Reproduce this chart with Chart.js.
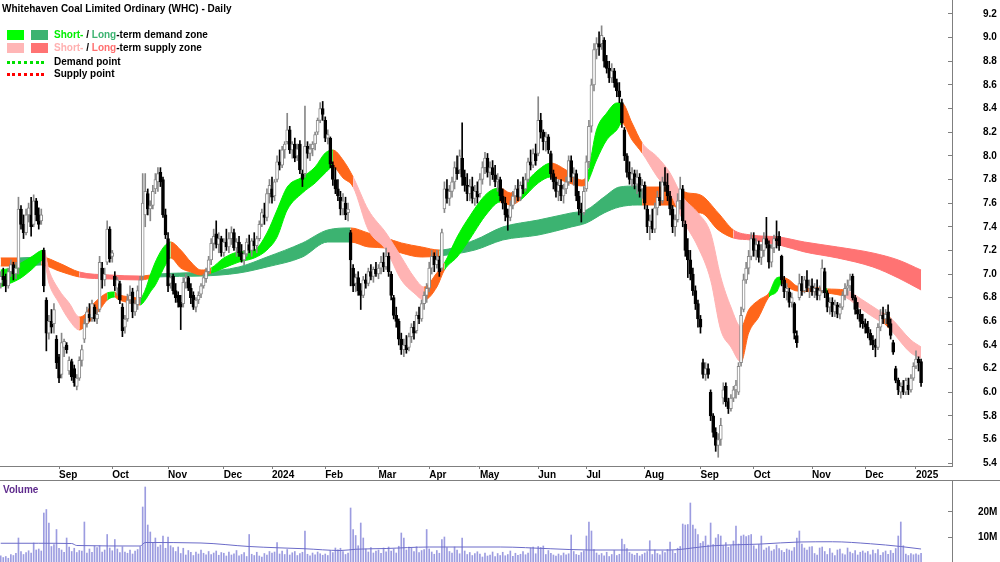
<!DOCTYPE html>
<html>
<head>
<meta charset="utf-8">
<script src="https://cdn.jsdelivr.net/npm/chart.js@4.4.1/dist/chart.umd.min.js"></script>
<style>
  html, body { margin: 0; padding: 0; background: #fff; }
  #wrap { position: relative; width: 1000px; height: 562px; overflow: hidden; font: bold 10px "Liberation Sans", Arial, sans-serif; color: #000; }
  canvas { position: absolute; left: 0; }
  #priceCanvas { top: 0; }
  #volCanvas { top: 481px; }
  #sep { position: absolute; left: 0; top: 480px; width: 1000px; height: 1px; background: #7f7f7f; }
  .txt { position: absolute; line-height: 12px; white-space: nowrap; }
  .sw { position: absolute; width: 17px; height: 10px; }
  .dots { position: absolute; width: 37px; height: 0; }
</style>
</head>
<body>
<div id="wrap">
  <canvas id="priceCanvas" width="1000" height="480"></canvas>
  <div id="sep"></div>
  <canvas id="volCanvas" width="1000" height="81"></canvas>

  <div class="txt" style="left:2px;top:3px">Whitehaven Coal Limited Ordinary (WHC) - Daily</div>
  <div class="sw" style="left:7px;top:30px;background:#00ff00"></div>
  <div class="sw" style="left:31px;top:30px;background:#3cb371"></div>
  <div class="txt" style="left:54px;top:29px"><span style="color:#00ee00">Short-</span> / <span style="color:#3cb371">Long</span>-term demand zone</div>
  <div class="sw" style="left:7px;top:43px;background:#ffb6b6"></div>
  <div class="sw" style="left:31px;top:43px;background:#ff7373"></div>
  <div class="txt" style="left:54px;top:42px"><span style="color:#ffb0b0">Short-</span> / <span style="color:#ff6f6f">Long</span>-term supply zone</div>
  <div class="dots" style="left:7px;top:61px;border-top:3px dotted #00e000"></div>
  <div class="txt" style="left:54px;top:56px">Demand point</div>
  <div class="dots" style="left:7px;top:73px;border-top:3px dotted #ff0000"></div>
  <div class="txt" style="left:54px;top:68px">Supply point</div>
  <div class="txt" style="left:3px;top:484px;color:#5e2a8c">Volume</div>
</div>
<script>
// month ticks (trading-day index of first session of each month)
const monthStart = [23, 44, 66, 88, 107, 128, 149, 169, 189, 212, 231, 254, 276, 297, 320, 341, 361];
const monthLabels = ['Sep', 'Oct', 'Nov', 'Dec', '2024', 'Feb', 'Mar', 'Apr', 'May', 'Jun', 'Jul', 'Aug', 'Sep', 'Oct', 'Nov', 'Dec', '2025'];

// daily prices, Aug 2023 .. Jan 2025
const openP = [
  6.92,6.98,6.95,6.9,7.02,7.08,7.0,7.05,7.55,7.42,7.35,7.5,7.5,7.42,7.62,7.5,7.45,7.2,6.78,6.5,6.6,6.58,6.45,
  6.3,6.15,6.38,6.4,6.18,6.26,6.2,6.05,6.12,6.27,6.45,6.58,6.66,6.63,6.72,6.62,6.7,7.05,6.95,7.1,7.38,
  7.15,6.98,6.88,6.92,6.72,6.55,6.62,6.78,6.85,6.68,6.74,6.8,6.98,7.5,7.68,7.55,7.58,7.72,7.78,7.86,7.8,7.5,
  7.3,6.92,6.98,6.86,6.82,6.76,6.75,6.93,6.97,6.88,6.82,6.72,6.78,6.83,6.9,6.96,7.02,7.12,7.26,7.34,7.25,7.3,
  7.18,7.27,7.23,7.3,7.35,7.22,7.27,7.18,7.12,7.17,7.25,7.2,7.28,7.24,7.3,7.42,7.5,7.48,7.68,
  7.72,7.66,7.8,7.95,7.92,8.05,8.12,8.22,8.05,8.1,8.0,8.1,7.85,7.85,8.08,8.02,8.06,8.1,8.2,8.3,8.4,
  8.3,8.15,8.15,7.92,7.8,7.72,7.65,7.55,7.6,7.52,7.35,7.05,6.92,6.97,6.86,6.82,6.95,6.92,7.02,6.98,7.04,
  7.0,7.05,7.1,7.06,7.15,7.0,6.8,6.65,6.6,6.45,6.36,6.4,6.38,6.47,6.55,6.52,6.65,6.62,6.75,6.82,
  6.88,7.05,7.15,7.08,7.12,7.05,7.55,7.72,7.64,7.7,7.78,7.9,7.88,7.98,7.82,7.75,7.68,7.74,7.64,7.7,
  7.68,7.8,7.9,7.98,7.86,7.9,7.84,7.78,7.8,7.66,7.6,7.5,7.48,7.58,7.66,7.72,7.65,7.75,7.72,7.8,7.95,7.92,8.02,
  8.02,8.3,8.2,8.12,8.16,8.02,7.85,7.78,7.7,7.75,7.66,7.72,7.78,7.96,7.82,7.85,7.66,7.55,7.52,
  7.72,7.95,8.25,8.6,8.9,8.95,8.95,8.98,8.8,8.74,8.66,8.72,8.62,8.55,8.45,8.22,8.0,7.86,7.8,7.85,7.76,7.82,7.72,
  7.75,7.55,7.4,7.45,7.38,7.56,7.65,7.62,7.78,7.75,7.66,7.55,7.4,7.46,7.62,7.72,7.42,7.2,7.12,7.0,6.86,6.75,
  6.62,6.25,6.15,6.2,6.0,5.8,5.66,5.55,5.6,5.95,6.05,5.92,5.86,5.95,6.02,6.0,6.25,6.7,6.95,7.05,7.15,
  7.3,7.2,7.25,7.14,7.2,7.3,7.25,7.1,7.22,7.3,7.32,7.15,6.95,6.85,6.85,6.76,6.75,6.48,6.8,6.92,6.86,6.95,6.88,
  6.9,6.85,6.88,6.82,6.86,7.02,6.84,6.72,6.76,6.68,6.74,6.66,6.72,6.82,6.88,6.9,6.98,6.8,6.7,6.66,6.6,
  6.58,6.55,6.5,6.44,6.4,6.38,6.55,6.65,6.62,6.68,6.58,6.42,6.2,6.1,6.0,6.05,6.0,6.06,6.02,6.12,
  6.22,6.28,6.26
];
const highP = [
  7.02,7.05,7.0,7.05,7.12,7.1,7.1,7.65,7.58,7.5,7.55,7.6,7.65,7.67,7.64,7.56,7.55,7.22,6.8,6.65,6.7,6.75,6.48,
  6.32,6.5,6.45,6.42,6.3,6.28,6.23,6.15,6.3,6.4,6.62,6.72,6.75,6.78,6.74,6.7,7.15,7.1,7.05,7.45,7.4,
  7.2,7.02,6.97,6.94,6.75,6.65,6.83,6.9,6.88,6.78,6.9,6.98,7.85,7.85,7.72,7.62,7.75,7.85,7.9,7.9,7.82,7.55,
  7.35,7.0,7.0,6.92,6.85,6.82,6.97,7.0,6.98,6.92,6.85,6.8,6.85,6.92,7.0,7.05,7.15,7.3,7.38,7.45,7.35,7.32,
  7.3,7.38,7.35,7.4,7.38,7.3,7.32,7.25,7.2,7.3,7.33,7.3,7.35,7.32,7.45,7.55,7.6,7.72,7.8,
  7.82,7.8,8.0,8.05,8.08,8.12,8.36,8.25,8.12,8.15,8.1,8.13,7.88,8.42,8.12,8.1,8.12,8.2,8.32,8.45,8.46,
  8.33,8.22,8.16,7.95,7.9,7.8,7.7,7.68,7.65,7.6,7.37,7.08,7.0,7.02,6.92,6.98,7.0,7.05,7.08,7.06,7.1,
  7.08,7.15,7.18,7.22,7.18,7.02,6.82,6.72,6.62,6.5,6.45,6.48,6.5,6.58,6.6,6.68,6.72,6.78,6.85,6.92,
  7.1,7.2,7.18,7.2,7.15,7.38,7.78,7.8,7.75,7.82,7.95,8.0,8.05,8.28,7.88,7.85,7.8,7.82,7.75,7.78,
  7.85,7.95,8.03,8.02,7.95,7.96,7.92,7.85,7.82,7.72,7.65,7.55,7.62,7.7,7.75,7.8,7.78,7.82,7.85,7.98,8.05,8.06,8.1,
  8.5,8.36,8.22,8.2,8.18,8.04,7.88,7.82,7.8,7.8,7.76,7.82,8.0,8.0,7.9,7.88,7.7,7.6,7.74,
  8.0,8.3,8.65,8.95,9.0,9.05,9.1,9.0,8.85,8.8,8.78,8.74,8.65,8.62,8.48,8.24,8.02,7.95,7.9,7.88,7.88,7.85,7.8,
  7.78,7.58,7.5,7.55,7.6,7.7,7.78,7.82,7.9,7.85,7.7,7.58,7.5,7.68,7.82,7.75,7.45,7.3,7.2,7.05,6.9,6.78,
  6.65,6.28,6.25,6.24,6.02,5.82,5.7,5.65,5.78,6.08,6.08,5.95,5.98,6.05,6.1,6.25,6.72,7.0,7.1,7.2,7.35,
  7.35,7.3,7.28,7.25,7.35,7.48,7.28,7.25,7.33,7.45,7.36,7.16,6.98,6.92,6.88,6.84,6.76,6.52,7.0,6.98,6.98,7.03,6.95,
  6.96,6.92,6.95,6.9,7.12,7.05,6.86,6.8,6.8,6.78,6.76,6.75,6.85,6.92,6.95,7.0,7.0,6.82,6.76,6.7,6.66,
  6.62,6.6,6.53,6.48,6.45,6.58,6.7,6.72,6.7,6.74,6.62,6.44,6.22,6.12,6.08,6.1,6.12,6.12,6.15,6.25,
  6.35,6.3,6.28
];
const lowP = [
  6.88,6.9,6.85,6.88,6.98,6.95,6.96,7.0,7.38,7.3,7.33,7.44,7.32,7.4,7.45,7.38,7.42,6.85,6.35,6.45,6.5,6.5,6.2,
  6.08,6.12,6.3,6.33,6.15,6.1,6.05,6.02,6.1,6.22,6.42,6.55,6.6,6.6,6.6,6.58,6.68,6.88,6.9,7.08,7.1,
  7.1,6.86,6.82,6.75,6.47,6.5,6.6,6.75,6.63,6.65,6.7,6.75,6.95,7.4,7.5,7.45,7.55,7.68,7.7,7.74,7.48,7.3,
  6.85,6.88,6.83,6.76,6.72,6.53,6.72,6.88,6.86,6.75,6.7,6.68,6.75,6.8,6.88,6.93,7.0,7.08,7.2,7.22,7.18,7.15,
  7.15,7.2,7.18,7.25,7.2,7.15,7.15,7.1,7.08,7.15,7.18,7.15,7.2,7.18,7.28,7.4,7.42,7.45,7.6,
  7.6,7.62,7.78,7.88,7.9,7.98,8.1,8.02,7.98,7.95,7.96,7.85,7.74,7.82,7.98,7.96,8.0,8.05,8.18,8.28,8.3,
  8.12,8.1,7.9,7.75,7.68,7.62,7.5,7.5,7.46,7.45,6.9,6.85,6.85,6.82,6.7,6.8,6.88,6.9,6.95,6.93,6.98,
  6.96,7.0,7.02,7.04,6.98,6.78,6.62,6.55,6.4,6.32,6.3,6.33,6.35,6.42,6.45,6.5,6.58,6.6,6.7,6.76,
  6.85,7.0,7.02,7.05,6.98,7.03,7.52,7.6,7.58,7.65,7.72,7.8,7.85,7.75,7.7,7.62,7.62,7.6,7.58,7.6,
  7.65,7.76,7.85,7.82,7.75,7.8,7.74,7.7,7.62,7.55,7.45,7.37,7.45,7.55,7.6,7.62,7.62,7.68,7.7,7.78,7.88,7.9,7.92,
  8.0,8.15,8.05,8.04,8.02,7.8,7.72,7.65,7.62,7.62,7.6,7.68,7.75,7.78,7.75,7.62,7.5,7.44,7.5,
  7.7,7.9,8.2,8.55,8.82,8.85,8.9,8.75,8.7,8.62,8.62,8.58,8.5,8.45,8.24,7.96,7.82,7.76,7.74,7.72,7.68,7.65,7.64,
  7.55,7.35,7.29,7.35,7.35,7.5,7.58,7.6,7.7,7.62,7.5,7.35,7.32,7.44,7.55,7.4,7.15,6.97,6.95,6.82,6.7,6.55,
  6.5,6.12,6.1,6.12,5.76,5.62,5.5,5.45,5.55,5.9,5.88,5.82,5.84,5.92,5.95,5.98,6.22,6.68,6.92,7.0,7.12,
  7.15,7.12,7.1,7.08,7.15,7.22,7.05,7.06,7.18,7.22,7.2,6.9,6.8,6.78,6.72,6.72,6.45,6.38,6.78,6.82,6.84,6.85,6.8,
  6.82,6.8,6.78,6.78,6.84,6.8,6.68,6.66,6.64,6.64,6.63,6.62,6.7,6.78,6.82,6.86,6.78,6.66,6.62,6.55,6.54,
  6.5,6.46,6.4,6.36,6.3,6.36,6.52,6.58,6.58,6.55,6.45,6.32,6.08,5.98,5.95,5.98,5.98,5.98,6.0,6.1,
  6.2,6.18,6.05
];
const closeP = [
  6.98,6.95,6.9,7.02,7.08,7.0,7.05,7.55,7.42,7.35,7.5,7.56,7.4,7.62,7.5,7.42,7.5,6.9,6.5,6.6,6.55,6.7,6.25,
  6.12,6.42,6.43,6.36,6.27,6.13,6.08,6.12,6.27,6.36,6.58,6.68,6.63,6.75,6.62,6.66,7.1,6.95,7.0,7.38,7.13,
  7.18,6.9,6.95,6.78,6.52,6.62,6.78,6.82,6.68,6.75,6.86,6.95,7.6,7.7,7.55,7.58,7.7,7.8,7.85,7.78,7.5,7.33,
  6.9,6.97,6.86,6.8,6.76,6.72,6.93,6.97,6.88,6.8,6.72,6.78,6.82,6.9,6.97,7.02,7.12,7.26,7.32,7.25,7.3,7.18,
  7.27,7.23,7.3,7.35,7.22,7.27,7.18,7.12,7.17,7.27,7.2,7.28,7.24,7.3,7.42,7.52,7.48,7.68,7.75,
  7.65,7.78,7.95,7.92,8.05,8.1,8.22,8.05,8.1,7.98,8.06,7.88,7.8,8.08,8.02,8.06,8.1,8.18,8.3,8.4,8.35,
  8.15,8.18,7.93,7.8,7.72,7.66,7.55,7.62,7.5,7.55,7.12,6.9,6.97,6.86,6.82,6.95,6.92,7.02,6.98,7.04,7.0,
  7.05,7.1,7.06,7.15,7.02,6.82,6.65,6.6,6.45,6.36,6.4,6.36,6.47,6.55,6.5,6.65,6.62,6.75,6.82,6.88,
  7.05,7.15,7.08,7.12,7.02,7.35,7.72,7.64,7.7,7.78,7.9,7.85,8.0,7.82,7.75,7.68,7.74,7.64,7.7,7.65,
  7.8,7.9,7.98,7.86,7.9,7.84,7.78,7.8,7.66,7.6,7.5,7.48,7.58,7.66,7.72,7.65,7.75,7.72,7.8,7.95,7.92,8.02,7.96,
  8.3,8.2,8.12,8.16,8.05,7.85,7.78,7.7,7.75,7.66,7.72,7.78,7.96,7.82,7.85,7.66,7.55,7.52,7.7,
  7.95,8.25,8.6,8.9,8.95,8.92,9.02,8.8,8.74,8.66,8.72,8.62,8.55,8.5,8.28,8.0,7.86,7.8,7.85,7.76,7.82,7.7,7.75,
  7.6,7.4,7.45,7.38,7.56,7.65,7.62,7.78,7.75,7.66,7.55,7.4,7.46,7.62,7.72,7.45,7.2,7.12,7.0,6.86,6.75,6.62,
  6.55,6.15,6.2,6.15,5.8,5.66,5.55,5.6,5.72,6.02,5.92,5.86,5.95,6.02,6.06,6.22,6.65,6.95,7.05,7.15,7.3,
  7.2,7.25,7.14,7.2,7.3,7.25,7.1,7.22,7.3,7.28,7.24,6.95,6.85,6.88,6.76,6.8,6.5,6.42,6.92,6.86,6.95,6.88,6.9,
  6.85,6.88,6.82,6.86,7.05,6.84,6.72,6.76,6.68,6.74,6.66,6.72,6.82,6.88,6.9,6.95,6.8,6.7,6.66,6.6,6.58,
  6.55,6.5,6.44,6.4,6.38,6.55,6.65,6.62,6.66,6.58,6.48,6.34,6.1,6.02,6.05,6.0,6.1,6.02,6.12,6.22,
  6.28,6.25,6.08
];

// daily volume, millions of shares
const volume = [
  2.5,1.8,2.2,1.5,3.0,2.6,3.5,9.6,4.2,3.0,3.8,4.5,3.6,7.6,4.8,5.2,4.4,19.6,21.0,15.6,6.2,7.0,13.0,
  5.5,4.8,3.9,9.6,6.0,4.2,5.5,3.8,4.6,4.4,16.0,3.6,5.2,3.9,6.4,5.8,6.5,4.0,4.8,11.0,5.6,
  4.5,9.0,5.2,3.8,6.1,4.0,3.5,4.8,3.2,4.4,5.0,6.2,22.0,30.0,14.8,12.0,7.5,9.6,6.0,6.8,10.4,5.5,
  10.0,6.5,5.8,4.2,6.0,3.4,5.5,2.8,4.6,3.9,2.6,4.0,3.2,4.8,3.5,2.9,4.2,3.0,3.6,4.4,2.7,3.8,
  3.5,2.4,4.0,2.8,3.3,4.6,2.5,3.0,3.8,2.2,11.0,3.1,2.6,3.9,2.4,2.0,3.4,2.8,4.2,
  3.6,4.0,7.8,3.2,4.4,3.0,5.0,2.8,3.7,4.2,2.6,3.4,3.9,12.4,3.1,2.5,3.6,2.9,4.0,3.3,2.7,
  3.2,2.6,4.5,3.8,5.6,4.9,5.5,4.2,3.0,3.6,21.6,13.0,10.6,6.5,15.6,9.6,5.2,4.0,5.8,3.6,4.4,
  4.8,3.5,5.6,4.1,6.0,4.4,5.2,3.6,6.3,11.6,9.6,4.8,6.0,5.5,4.2,6.1,3.8,4.6,5.0,13.0,
  5.2,4.0,3.1,4.6,3.5,9.0,10.0,5.8,4.2,3.6,6.0,4.8,3.3,9.6,4.4,3.0,3.8,2.6,3.4,4.1,
  3.2,2.0,3.6,2.4,2.8,4.0,2.2,3.4,2.6,3.9,2.5,3.0,4.4,2.3,3.5,2.7,3.1,4.2,2.9,3.6,5.6,6.0,3.3,
  6.2,5.8,6.4,3.0,4.6,3.5,2.8,2.4,3.2,2.6,3.6,2.9,3.3,10.8,4.2,3.0,2.7,3.8,4.5,
  10.4,16.0,12.4,5.0,3.6,2.8,3.4,2.5,3.9,2.2,3.0,4.6,2.6,3.1,9.2,7.0,5.4,3.8,3.2,2.7,3.5,2.4,3.0,
  3.6,4.2,8.5,3.0,4.8,3.4,2.9,4.4,3.8,5.0,8.0,4.6,3.5,5.5,6.2,15.2,14.8,15.0,23.6,14.8,13.2,11.0,
  7.5,8.2,10.4,6.8,15.6,7.0,9.6,11.0,10.4,6.5,7.8,5.9,6.6,8.4,14.4,7.2,10.4,10.8,10.2,10.6,11.0,
  6.5,5.2,7.0,10.4,4.8,5.6,6.2,4.4,5.0,6.8,5.4,4.6,3.9,5.2,4.8,4.4,5.8,9.6,12.4,7.2,5.6,4.8,6.0,
  6.2,3.4,2.8,5.6,6.0,4.2,3.0,5.4,3.6,2.6,4.8,5.2,3.3,2.9,5.6,4.0,3.4,4.6,2.8,3.9,4.4,
  3.6,4.2,2.9,4.8,3.4,5.0,2.7,3.8,4.4,3.1,4.6,3.5,5.4,10.4,16.0,6.5,3.2,2.6,3.4,2.9,
  3.3,2.8,3.5
];

// volume moving average (read at a few sessions)
const volMaIdx = [0, 15, 28, 30, 55, 57, 79, 98, 109, 120, 134, 140, 152, 169, 197, 217, 232, 264, 276, 281, 300, 315, 328, 343, 355, 363];
const volMaVal = [7.5, 7.5, 7.4, 6.6, 6.4, 7.8, 7.6, 6.2, 5.7, 5.3, 4.6, 5.1, 5.4, 6.0, 6.0, 5.3, 4.8, 4.8, 6.0, 6.5, 7.2, 8.0, 8.1, 7.3, 6.2, 5.2];

// short-term zone: upper / lower edge and zone type for the following stretch
const stIdx = [0,4,8,12,17,19,23,27,31,33,35,39,42,45,46,51,55,57,59,61,63,65,67,71,75,79,83,88,94,100,105,109,113,119,124,128,131,135,139,145,152,158,163,167,172,175,180,184,192,197,201,205,212,217,223,229,231,235,239,243,245,249,253,259,264,269,275,280,284,288,292,295,299,303,306,308,311,314,324,326,333,340,346,348,351,359,363];
const stHi = [7.034,7.051,7.093,7.144,7.203,7.034,6.865,6.755,6.637,6.654,6.713,6.797,6.840,6.848,6.831,6.806,6.797,6.865,6.992,7.102,7.187,7.246,7.271,7.203,7.102,7.034,7.051,7.136,7.187,7.203,7.347,7.542,7.736,7.821,7.906,8.024,8.049,7.965,7.821,7.542,7.347,7.144,6.975,6.890,7.009,7.093,7.313,7.457,7.686,7.728,7.686,7.736,7.880,7.939,7.880,7.796,7.821,8.219,8.362,8.447,8.447,8.278,8.109,7.990,7.855,7.652,7.517,7.347,6.975,6.721,6.552,6.696,6.780,6.840,6.967,6.975,6.950,6.899,6.882,6.874,6.865,6.780,6.696,6.670,6.628,6.442,6.383];
const stLo = [6.890,6.924,6.967,7.034,7.119,6.924,6.755,6.611,6.527,6.552,6.594,6.696,6.780,6.806,6.789,6.755,6.738,6.780,6.848,6.907,6.992,7.077,7.136,7.051,7.017,6.992,7.009,7.051,7.102,7.136,7.203,7.313,7.542,7.686,7.770,7.855,7.906,7.813,7.736,7.373,7.203,6.950,6.840,6.780,6.890,7.034,7.144,7.263,7.517,7.610,7.584,7.626,7.770,7.821,7.779,7.745,7.762,7.965,8.134,8.219,8.278,8.134,8.024,7.821,7.686,7.457,7.229,6.950,6.527,6.383,6.256,6.501,6.637,6.806,6.848,6.924,6.882,6.857,6.848,6.840,6.806,6.696,6.611,6.590,6.527,6.332,6.290];
const stZone = ['G','G','G','G','P','P','P','P','O','O','O','O','G','O','O','O','G','G','G','G','G','G','O','O','O','O','G','G','G','G','G','G','G','G','G','G','O','O','P','P','P','P','P','O','O','G','G','G','G','O','O','G','G','O','O','O','G','G','G','G','O','O','P','P','P','P','P','P','P','P','O','O','O','G','G','O','O','O','G','O','P','P','P','O','P','P','P'];

// long-term zone
const ltIdx = [0,7,16,23,31,43,55,62,79,94,105,119,129,138,145,152,158,166,173,187,198,212,225,231,238,244,251,253,264,271,276,283,289,296,307,317,330,344,354,363];
const ltHi = [7.136,7.136,7.144,7.093,7.017,6.992,6.983,7.000,7.017,7.060,7.144,7.263,7.373,7.390,7.347,7.305,7.263,7.229,7.203,7.288,7.398,7.457,7.517,7.542,7.652,7.736,7.745,7.736,7.736,7.686,7.669,7.517,7.373,7.330,7.313,7.271,7.229,7.178,7.119,7.034];
const ltLo = [7.068,7.068,7.077,7.026,6.975,6.958,6.950,6.975,6.983,7.009,7.060,7.144,7.271,7.271,7.229,7.220,7.178,7.144,7.153,7.203,7.288,7.330,7.398,7.432,7.517,7.567,7.584,7.584,7.584,7.517,7.517,7.373,7.305,7.288,7.246,7.187,7.136,7.060,6.967,6.865];
const ltZone = ['O','D','O','O','S','S','O','D','D','D','D','D','D','O','O','O','O','O','D','D','D','D','D','D','D','D','D','O','O','O','O','O','S','S','S','S','S','S','S','S'];

const zoneColor = { G: '#00f000', D: '#3cb371', P: '#ffb3b3', S: '#ff7373', O: '#ff661a' };
const FONT = { family: '"Liberation Sans", Arial, sans-serif', size: 10, weight: 'bold' };
const X_MIN = -0.28, X_MAX = 375.2;

function zoneDatasets(idx, hi, lo, zone, order) {
    const col = ctx => zoneColor[zone[ctx.p0DataIndex]];
    const base = {
        type: 'line',
        pointRadius: 0,
        borderWidth: 1,
        cubicInterpolationMode: 'monotone',
        backgroundColor: zoneColor[zone[0]],
        borderColor: zoneColor[zone[0]],
        segment: { backgroundColor: col, borderColor: col },
        order: order
    };
    return [
        Object.assign({}, base, { data: idx.map((v, k) => ({ x: v, y: hi[k] })), fill: '+1' }),
        Object.assign({}, base, { data: idx.map((v, k) => ({ x: v, y: lo[k] })), fill: false })
    ];
}

const isUp = i => closeP[i] >= openP[i];

function createPriceChart() {
    const wicks = closeP.map((c, i) => ({ x: i, y: [lowP[i], highP[i]] }));
    const bodies = closeP.map((c, i) => ({ x: i, y: [openP[i], c] }));

    new Chart(document.getElementById('priceCanvas'), {
        type: 'bar',
        data: {
            datasets: [
                ...zoneDatasets(ltIdx, ltHi, ltLo, ltZone, 4),
                ...zoneDatasets(stIdx, stHi, stLo, stZone, 3),
                {
                    type: 'bar', data: wicks, grouped: false, barThickness: 1, order: 2,
                    backgroundColor: ctx => isUp(ctx.dataIndex) ? '#888888' : '#000000'
                },
                {
                    type: 'bar', data: bodies, grouped: false, barThickness: 3, order: 1,
                    borderWidth: 1, borderSkipped: false,
                    backgroundColor: ctx => isUp(ctx.dataIndex) ? '#ffffff' : '#000000',
                    borderColor: ctx => isUp(ctx.dataIndex) ? '#888888' : '#000000'
                }
            ]
        },
        options: {
            responsive: false,
            animation: false,
            layout: { padding: 0 },
            plugins: { legend: { display: false }, tooltip: { enabled: false } },
            scales: {
                x: {
                    type: 'linear', min: X_MIN, max: X_MAX, offset: false,
                    grid: { drawOnChartArea: false, drawTicks: true, tickLength: 3, color: '#7f7f7f', offset: false },
                    border: { color: '#7f7f7f' },
                    ticks: {
                        autoSkip: false, maxRotation: 0, minRotation: 0, align: 'start', padding: 0,
                        color: '#000', font: FONT,
                        callback: (v, i) => monthLabels[i]
                    },
                    afterBuildTicks: s => { s.ticks = monthStart.map(v => ({ value: v })); },
                    afterFit: s => { s.height = 14; s.paddingLeft = 0; s.paddingRight = 0; }
                },
                y: {
                    position: 'right', min: 5.376, max: 9.3184,
                    grid: { drawOnChartArea: false, drawTicks: true, tickLength: -4, color: '#7f7f7f' },
                    border: { color: '#7f7f7f' },
                    ticks: {
                        stepSize: 0.2, includeBounds: false, padding: 35,
                        color: '#000', font: FONT,
                        callback: v => v.toFixed(1)
                    },
                    afterFit: s => { s.width = 48; s.paddingTop = 0; s.paddingBottom = 0; }
                }
            }
        }
    });
}

function createVolumeChart() {
    const bars = volume.map((v, i) => ({ x: i, y: v }));
    const avg = volMaIdx.map((v, k) => ({ x: v, y: volMaVal[k] }));

    new Chart(document.getElementById('volCanvas'), {
        type: 'bar',
        data: {
            datasets: [
                { type: 'bar', data: bars, barThickness: 1, backgroundColor: '#9c9ce0', order: 2 },
                {
                    type: 'line', data: avg, borderColor: '#6b6bc8', borderWidth: 1,
                    pointRadius: 0, cubicInterpolationMode: 'monotone', fill: false, order: 1
                }
            ]
        },
        options: {
            responsive: false,
            animation: false,
            layout: { padding: 0 },
            plugins: { legend: { display: false }, tooltip: { enabled: false } },
            scales: {
                x: { type: 'linear', min: X_MIN, max: X_MAX, offset: false, display: false },
                y: {
                    position: 'right', min: 0, max: 32.4,
                    grid: { drawOnChartArea: false, drawTicks: true, tickLength: -4, color: '#7f7f7f' },
                    border: { color: '#7f7f7f' },
                    ticks: { padding: 30, color: '#000', font: FONT, callback: v => v + 'M' },
                    afterBuildTicks: s => { s.ticks = [{ value: 10 }, { value: 20 }]; },
                    afterFit: s => { s.width = 48; s.paddingTop = 0; s.paddingBottom = 0; }
                }
            }
        }
    });
}

createPriceChart();
createVolumeChart();
</script>
</body>
</html>
